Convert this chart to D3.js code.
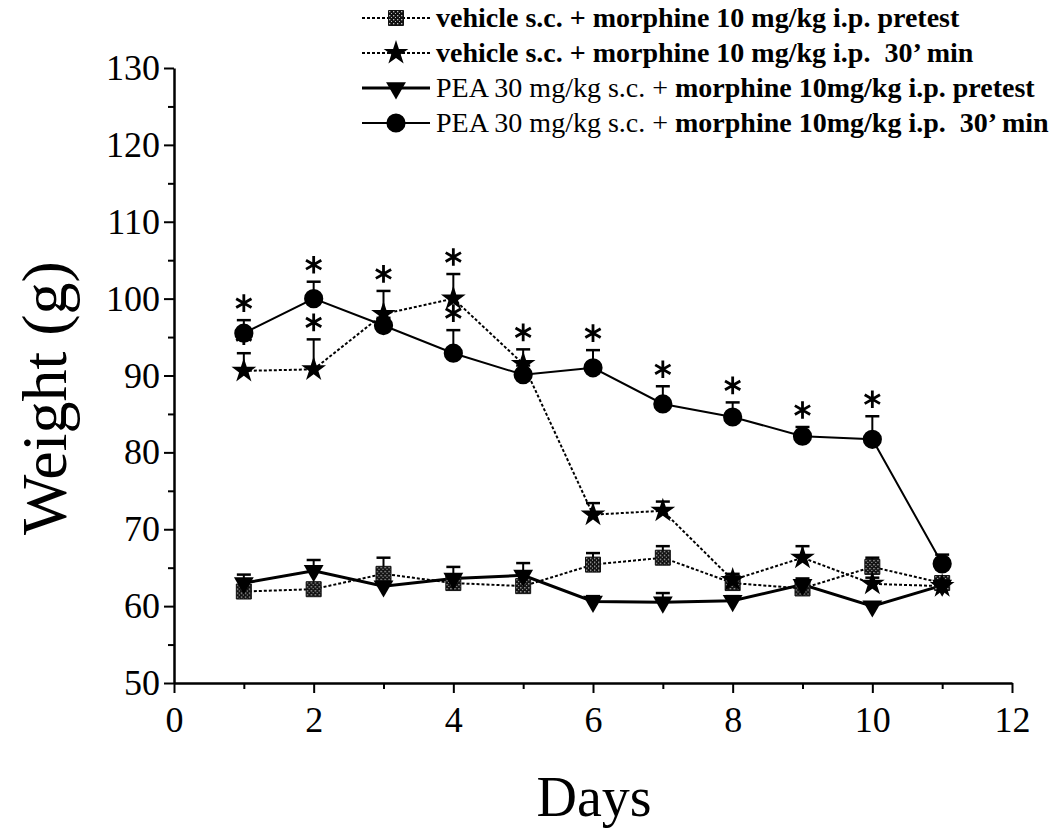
<!DOCTYPE html>
<html>
<head>
<meta charset="utf-8">
<script src="https://cdn.jsdelivr.net/npm/d3@7"></script>
<style>
  body { margin: 0; background: #fff; }
  text { font-family: "Liberation Serif", "DejaVu Serif", serif; }
</style>
</head>
<body>
<script>
// data (mean weight in g, upward SEM bars)
var days = [1, 2, 3, 4, 5, 6, 7, 8, 9, 10, 11];
var vehPre     = [61.9, 62.2, 64.2, 63.0, 62.6, 65.4, 66.3, 63.0, 62.3, 65.1, 63.0];
var vehPreErr  = [0.6, 0.7, 2.1, 0.8, 0.8, 1.5, 1.5, 0.8, 0.8, 1.2, 0.8];
var vehPost    = [90.6, 90.8, 98.0, 100.0, 91.5, 71.9, 72.4, 63.4, 66.3, 62.9, 62.6];
var vehPostErr = [2.3, 3.9, 3.0, 3.2, 1.9, 1.5, 1.2, 0.8, 1.5, 0.8, 0.8];
var peaPre     = [63.0, 64.6, 62.6, 63.6, 64.0, 60.6, 60.5, 60.7, 62.8, 60.0, 62.7];
var peaPreErr  = [1.1, 1.4, 0.8, 1.5, 1.6, 0.7, 1.2, 0.6, 0.8, 0.5, 0.7];
var peaPost    = [95.5, 100.0, 96.5, 92.9, 90.1, 91.0, 86.3, 84.6, 82.1, 81.7, 65.5];
var peaPostErr = [1.7, 2.2, 1.0, 3.0, 1.2, 2.3, 2.3, 1.9, 1.2, 3.0, 1.2];
// days with a significance asterisk
var sigVehPost = [1, 2, 3, 4, 5];
var sigPeaPost = [1, 2, 4, 6, 7, 8, 9, 10];

var xTicks = [0, 2, 4, 6, 8, 10, 12];
var yTicks = [50, 60, 70, 80, 90, 100, 110, 120, 130];

var w = 1052, h = 828;
var serif = "'Liberation Serif', 'DejaVu Serif', serif";

var svg = d3.select("body").append("svg")
    .attr("width", w).attr("height", h);

var x = d3.scaleLinear().domain([0, 12]).range([174, 1012]);
var y = d3.scaleLinear().domain([50, 130]).range([683, 68]);

// pattern for the dark dotted squares
var pat = svg.append("defs").append("pattern")
    .attr("id", "chk").attr("width", 4).attr("height", 4)
    .attr("patternUnits", "userSpaceOnUse");
pat.append("rect").attr("width", 4).attr("height", 4).attr("fill", "#111");
pat.append("rect").attr("x", 1).attr("y", 1).attr("width", 1.3).attr("height", 1.3).attr("fill", "#bbb");
pat.append("rect").attr("x", 3).attr("y", 3).attr("width", 1.3).attr("height", 1.3).attr("fill", "#bbb");

var series = [
  { name: "vehPre", vals: vehPre, err: vehPreErr, shape: "square", dash: "3,2", lw: 2 },
  { name: "peaPre", vals: peaPre, err: peaPreErr, shape: "tri", dash: null, lw: 3 },
  { name: "vehPost", vals: vehPost, err: vehPostErr, shape: "star", dash: "3,2", lw: 2 },
  { name: "peaPost", vals: peaPost, err: peaPostErr, shape: "circle", dash: null, lw: 2 }
];

function drawMarker(g, shape) {
  if (shape == "square") {
    g.append("path").attr("d", d3.symbol(d3.symbolSquare, 225)())
      .attr("fill", "url(#chk)").attr("stroke", "#111").attr("stroke-width", 1);
  } else if (shape == "tri") {
    g.append("path").attr("d", d3.symbol(d3.symbolTriangle, 170)())
      .attr("transform", "rotate(180)")
      .attr("fill", "#000");
  } else if (shape == "star") {
    g.append("path").attr("d", d3.symbol(d3.symbolStar, 190)())
      .attr("fill", "#000");
  } else {
    g.append("path").attr("d", d3.symbol(d3.symbolCircle, 290)())
      .attr("fill", "#000");
  }
}

// axes
var yAxis = svg.append("g").attr("transform", "translate(174,0)")
    .call(d3.axisLeft(y).tickValues(yTicks).tickSize(10).tickPadding(4).tickSizeOuter(0));
svg.append("g").attr("transform", "translate(174,0)")
    .call(d3.axisLeft(y).tickValues(d3.range(55, 130, 10)).tickSize(6).tickFormat("").tickSizeOuter(0))
    .select(".domain").remove();
var xAxis = svg.append("g").attr("transform", "translate(0,683)")
    .call(d3.axisBottom(x).tickValues(xTicks).tickSize(10).tickPadding(13).tickSizeOuter(0));
svg.append("g").attr("transform", "translate(0,683)")
    .call(d3.axisBottom(x).tickValues(d3.range(1, 12, 2)).tickSize(6).tickFormat("").tickSizeOuter(0))
    .select(".domain").remove();

svg.selectAll(".domain").attr("stroke-width", 2.5);
svg.selectAll(".tick line").attr("stroke-width", 2);
svg.selectAll("g").attr("font-family", serif);
yAxis.selectAll(".tick text").attr("font-size", 36);
xAxis.selectAll(".tick text").attr("font-size", 36);

svg.append("text")
    .attr("transform", "translate(66,398) rotate(-90)")
    .attr("text-anchor", "middle")
    .attr("font-size", 64)
    .text("Weight (g)");

svg.append("text")
    .attr("x", 594).attr("y", 816)
    .attr("text-anchor", "middle")
    .attr("font-size", 56)
    .text("Days");

// lines
series.forEach(function(s) {
  var line = d3.line()
      .x(function(d, i) { return x(days[i]); })
      .y(function(d) { return y(d); });
  svg.append("path")
      .datum(s.vals)
      .attr("d", line)
      .attr("fill", "none")
      .attr("stroke", "#000")
      .attr("stroke-width", s.lw)
      .attr("stroke-dasharray", s.dash);
});

// error bars (upper only)
series.forEach(function(s) {
  var g = svg.append("g");
  s.vals.forEach(function(v, i) {
    var cx = x(days[i]);
    g.append("line")
        .attr("x1", cx).attr("x2", cx)
        .attr("y1", y(v)).attr("y2", y(v + s.err[i]))
        .attr("stroke", "#000").attr("stroke-width", 2);
    g.append("line")
        .attr("x1", cx - 7).attr("x2", cx + 7)
        .attr("y1", y(v + s.err[i])).attr("y2", y(v + s.err[i]))
        .attr("stroke", "#000").attr("stroke-width", 2.5);
  });
});

// markers
series.forEach(function(s) {
  s.vals.forEach(function(v, i) {
    var g = svg.append("g").attr("transform", "translate(" + x(days[i]) + "," + y(v) + ")");
    drawMarker(g, s.shape);
  });
});

// asterisks
function stars(list, vals, err, dx) {
  list.forEach(function(d) {
    var i = days.indexOf(d);
    svg.append("path")
        .attr("d", d3.symbol(d3.symbolAsterisk, 220)())
        .attr("transform", "translate(" + (x(d) + dx) + "," + (y(vals[i] + err[i]) - 17) + ")")
        .attr("fill", "none")
        .attr("stroke", "#000")
        .attr("stroke-width", 2.8);
  });
}
stars(sigVehPost, vehPost, vehPostErr, 0);
stars(sigPeaPost, peaPost, peaPostErr, 0);

// legend
var legendRows = [
  { s: series[0], plain: "", bold: "vehicle s.c. + morphine 10 mg/kg i.p. pretest" },
  { s: series[2], plain: "", bold: "vehicle s.c. + morphine 10 mg/kg i.p.  30\u2019 min" },
  { s: series[1], plain: "PEA 30 mg/kg s.c. + ", bold: "morphine 10mg/kg i.p. pretest" },
  { s: series[3], plain: "PEA 30 mg/kg s.c. + ", bold: "morphine 10mg/kg i.p.  30\u2019 min" }
];
legendRows.forEach(function(r, i) {
  var ly = 18 + i * 35;
  svg.append("line")
      .attr("x1", 362).attr("x2", 430)
      .attr("y1", ly).attr("y2", ly)
      .attr("stroke", "#000")
      .attr("stroke-width", r.s.lw)
      .attr("stroke-dasharray", r.s.dash);
  var g = svg.append("g").attr("transform", "translate(396," + ly + ")");
  drawMarker(g, r.s.shape);
  var t = svg.append("text")
      .attr("x", 436).attr("y", ly + 9)
      .attr("font-size", 28)
      .style("white-space", "pre");
  t.append("tspan").text(r.plain);
  t.append("tspan").attr("font-weight", "bold").text(r.bold);
});
</script>
</body>
</html>
